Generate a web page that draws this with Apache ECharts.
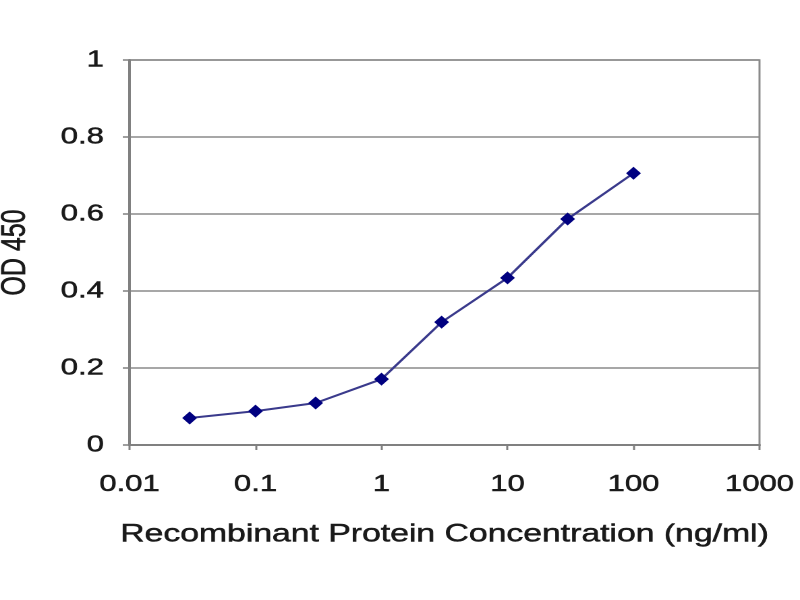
<!DOCTYPE html>
<html>
<head>
<meta charset="utf-8">
<script src="https://cdn.jsdelivr.net/npm/echarts@6/dist/echarts.min.js"></script>
<style>
  html, body { margin: 0; padding: 0; background: #fff; }
  #wrap { width: 800px; height: 600px; overflow: hidden; }
  /* the reference picture is stretched sideways, so the chart is drawn narrow and scaled */
  #main { width: 593px; height: 600px; transform: scaleX(1.349); transform-origin: 0 0; }
</style>
</head>
<body>
<div id="wrap"><div id="main"></div></div>
<script>
// concentration of recombinant protein (ng/ml)
var concentrations = [0.03, 0.1, 0.3, 1, 3, 10, 30, 100];
// measured OD 450
var od450 = [0.070, 0.088, 0.109, 0.171, 0.319, 0.434, 0.587, 0.706];
// axis ranges
var xRange = [0.01, 1000];
var yRange = [0, 1];
var yStep = 0.2;

var points = [];
for (var i = 0; i < concentrations.length; i++) {
    points.push([concentrations[i], od450[i]]);
}

var font = "'Liberation Sans', Arial, sans-serif";
// slightly heavier text, like the blurred original
var textStyle = {fontFamily: font, color: '#1a1a1a', textBorderColor: '#1a1a1a', textBorderWidth: 0.5};

var myChart = echarts.init(document.getElementById('main'), null, {devicePixelRatio: 2});

var option = {
    backgroundColor: '#fff',
    animation: false,
    grid: {
        left: 96, right: 30, top: 60, bottom: 155,
        outerBoundsMode: 'none',
        containLabel: false,
        show: true, borderColor: '#8a8a8a', borderWidth: 1.5
    },
    xAxis: {
        type: 'log',
        logBase: 10,
        min: xRange[0],
        max: xRange[1],
        name: 'Recombinant Protein Concentration (ng/ml)',
        nameLocation: 'middle',
        nameGap: 77,
        nameTextStyle: Object.assign({fontSize: 25}, textStyle),
        axisLine: {lineStyle: {color: '#808080', width: 2}},
        axisTick: {show: true, length: 5, lineStyle: {color: '#808080', width: 1.5}},
        minorTick: {show: false},
        splitLine: {show: false},
        axisLabel: Object.assign({
            fontSize: 23, margin: 28,
            formatter: function (v) { return String(+v.toPrecision(3)); }
        }, textStyle)
    },
    yAxis: {
        type: 'value',
        min: yRange[0],
        max: yRange[1],
        interval: yStep,
        name: 'OD 450',
        nameLocation: 'middle',
        nameGap: 72,
        nameTextStyle: Object.assign({fontSize: 25}, textStyle),
        axisLine: {show: true, lineStyle: {color: '#808080', width: 2}},
        axisTick: {show: true, length: 5, lineStyle: {color: '#808080', width: 1.5}},
        splitLine: {lineStyle: {color: '#8a8a8a', width: 1.5}},
        axisLabel: Object.assign({
            fontSize: 23, margin: 19,
            formatter: function (v) { return String(+v.toFixed(1)); }
        }, textStyle)
    },
    series: [{
        type: 'line',
        data: points,
        symbol: 'diamond',
        symbolSize: [11, 13],
        lineStyle: {color: '#3a3a8c', width: 2},
        itemStyle: {color: '#000080'}
    }]
};
myChart.setOption(option);
</script>
</body>
</html>
